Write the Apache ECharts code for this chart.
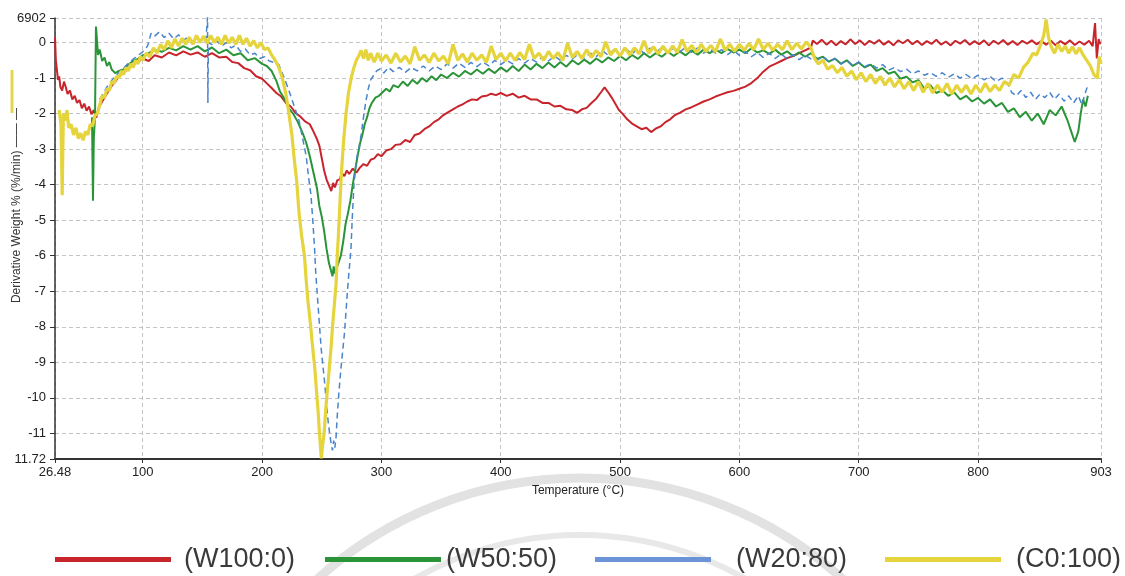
<!DOCTYPE html>
<html>
<head>
<meta charset="utf-8">
<script src="https://cdn.jsdelivr.net/npm/echarts@6/dist/echarts.min.js"></script>
<style>html,body{margin:0;padding:0;background:#fff;}#c{width:1125px;height:576px;}</style>
</head>
<body>
<div id="c"></div>
<script>
// ---- data (Temperature °C, derivative weight %/min) ----
const seriesNames = ['(W100:0)', '(W50:50)', '(W20:80)', '(C0:100)'];
const xTickValues = [26.48, 100, 200, 300, 400, 500, 600, 700, 800, 903];
const yTickValues = [0.6902, 0, -1, -2, -3, -4, -5, -6, -7, -8, -9, -10, -11, -11.72];
const yTickLabels = ['6902', '0', '-1', '-2', '-3', '-4', '-5', '-6', '-7', '-8', '-9', '-10', '-11', '11.72'];

const w100 = [
[26.48,0.15],[27.2,-0.5],[28,-0.75],[29,-1.05],[30,-0.95],[31,-1.25],[32.5,-1.35],[34,-1.1],[35.5,-1.25],[37,-1.45],[39,-1.35],[41,-1.6],[43,-1.5],[45,-1.7],[47,-1.62],[49,-1.85],[51,-1.72],[53,-1.92],[55,-1.8],[57,-2.02],[59,-1.9],[61,-2.12],[63,-1.85],[65,-1.72],[68,-1.55],[71,-1.38],[74,-1.22],[77,-1.1],[80,-0.95],[84,-0.85],[88,-0.72],[92,-0.62],[96,-0.55],[100,-0.45],[105,-0.52],[110,-0.36],[116,-0.42],[122,-0.28],[128,-0.36],[134,-0.25],[140,-0.34],[146,-0.28],[152,-0.4],[158,-0.3],[164,-0.42],[170,-0.4],[175,-0.55],[180,-0.58],[185,-0.72],[190,-0.78],[195,-0.95],[200,-1.02],[204,-1.15],[208,-1.28],[212,-1.42],[216,-1.52],[220,-1.7],[224,-1.8],[228,-1.98],[232,-2.08],[236,-2.22],[240,-2.3],[243,-2.5],[246,-2.72],[248,-2.9],[250,-3.25],[252,-3.6],[254,-3.85],[256,-4.02],[258,-4.18],[259.5,-3.95],[261,-4.08],[263,-3.88],[265,-3.85],[267,-3.68],[269,-3.76],[271,-3.6],[273,-3.7],[276,-3.55],[279,-3.66],[282,-3.52],[285,-3.42],[288,-3.47],[291,-3.3],[294,-3.26],[297,-3.14],[300,-3.2],[304,-3.04],[308,-3.0],[312,-2.88],[316,-2.86],[320,-2.74],[324,-2.8],[328,-2.6],[332,-2.56],[336,-2.44],[340,-2.36],[344,-2.24],[348,-2.16],[352,-2.04],[356,-1.96],[360,-1.88],[364,-1.8],[368,-1.74],[372,-1.66],[376,-1.6],[380,-1.62],[384,-1.52],[388,-1.5],[392,-1.44],[396,-1.48],[400,-1.42],[405,-1.5],[410,-1.44],[415,-1.55],[420,-1.5],[425,-1.6],[430,-1.6],[435,-1.7],[440,-1.7],[445,-1.8],[450,-1.78],[455,-1.88],[460,-1.9],[464,-1.98],[468,-1.88],[472,-1.84],[476,-1.7],[480,-1.58],[484,-1.4],[487,-1.26],[490,-1.4],[493,-1.55],[496,-1.72],[499,-1.9],[502,-2.0],[506,-2.16],[510,-2.28],[514,-2.36],[518,-2.44],[522,-2.4],[526,-2.52],[530,-2.42],[534,-2.36],[538,-2.24],[542,-2.16],[546,-2.04],[550,-1.98],[555,-1.88],[560,-1.82],[565,-1.74],[570,-1.66],[575,-1.6],[580,-1.52],[585,-1.46],[590,-1.4],[595,-1.36],[600,-1.3],[605,-1.24],[610,-1.14],[615,-1.0],[620,-0.82],[625,-0.68],[630,-0.6],[635,-0.52],[640,-0.44],[645,-0.38],[650,-0.3],[655,-0.22],[660,-0.14],[661.5,0.06],[665,-0.04],[669,0.08],[673,-0.06],[677,0.05],[681,-0.08],[685,0.04],[689,-0.05],[693,0.09],[697,-0.04],[701,0.06],[705,-0.07],[709,0.05],[713,-0.03],[717,0.07],[721,-0.06],[725,0.04],[729,-0.08],[733,0.06],[737,-0.02],[741,0.08],[745,-0.05],[749,0.05],[753,-0.07],[757,0.04],[761,-0.04],[765,0.08],[769,-0.06],[773,0.03],[777,-0.08],[781,0.05],[785,-0.03],[789,0.07],[793,-0.06],[797,0.04],[801,-0.05],[805,0.06],[809,-0.08],[813,0.05],[817,-0.04],[821,0.07],[825,-0.06],[829,0.04],[833,-0.07],[837,0.05],[841,-0.03],[845,0.06],[849,-0.05],[853,0.04],[857,-0.06],[861,0.05],[865,-0.08],[869,0.04],[873,-0.05],[877,0.06],[881,-0.07],[885,0.03],[889,-0.06],[893,0.05],[896,-0.1],[898,0.55],[899.5,-0.45],[901,0.1],[902.5,-0.05]
];

const w50 = [
[57.5,-2.1],[58.3,-4.45],[59,-2.7],[60,-2.1],[60.8,0.45],[61.5,0.15],[62.5,-0.35],[64,-0.2],[66,-0.52],[68,-0.42],[70,-0.66],[72,-0.55],[74,-0.76],[77,-0.86],[80,-0.8],[84,-0.76],[88,-0.62],[92,-0.52],[96,-0.46],[100,-0.36],[105,-0.3],[110,-0.2],[116,-0.26],[122,-0.15],[128,-0.22],[134,-0.1],[140,-0.2],[146,-0.1],[152,-0.25],[158,-0.14],[164,-0.3],[170,-0.2],[176,-0.36],[182,-0.3],[188,-0.5],[194,-0.44],[200,-0.6],[204,-0.66],[208,-0.8],[212,-1.08],[215,-1.38],[219,-1.6],[222,-1.84],[226,-2.0],[230,-2.24],[234,-2.55],[237,-2.82],[240,-3.2],[243,-3.65],[246,-4.1],[248,-4.6],[250,-4.9],[252,-5.3],[254,-5.8],[256,-6.2],[258,-6.45],[259,-6.58],[260,-6.3],[261,-6.5],[262,-6.4],[264,-6.2],[266,-6.0],[268,-5.6],[270,-5.1],[272,-4.8],[274,-4.45],[276,-4.0],[278,-3.6],[280,-3.2],[282,-2.85],[284,-2.6],[286,-2.3],[288,-2.1],[290,-1.85],[292,-1.7],[295,-1.55],[298,-1.5],[301,-1.4],[304,-1.3],[307,-1.38],[310,-1.2],[314,-1.26],[318,-1.1],[322,-1.22],[326,-1.05],[330,-1.16],[334,-1.0],[338,-1.1],[342,-0.95],[346,-1.06],[350,-0.9],[355,-1.0],[360,-0.85],[365,-0.96],[370,-0.8],[375,-0.9],[380,-0.76],[385,-0.88],[390,-0.74],[395,-0.86],[400,-0.7],[405,-0.82],[410,-0.66],[415,-0.8],[420,-0.62],[425,-0.76],[430,-0.6],[435,-0.72],[440,-0.56],[445,-0.7],[450,-0.55],[455,-0.68],[460,-0.5],[465,-0.62],[470,-0.48],[475,-0.6],[480,-0.45],[485,-0.56],[490,-0.42],[495,-0.52],[500,-0.38],[505,-0.5],[510,-0.35],[515,-0.46],[520,-0.3],[525,-0.42],[530,-0.3],[535,-0.4],[540,-0.26],[545,-0.38],[550,-0.25],[555,-0.36],[560,-0.22],[565,-0.34],[570,-0.2],[575,-0.3],[580,-0.2],[585,-0.3],[590,-0.18],[595,-0.28],[600,-0.2],[605,-0.3],[610,-0.16],[615,-0.28],[620,-0.22],[625,-0.32],[630,-0.2],[635,-0.34],[640,-0.25],[645,-0.38],[650,-0.28],[655,-0.4],[660,-0.3],[665,-0.46],[670,-0.4],[675,-0.54],[680,-0.45],[685,-0.6],[690,-0.5],[695,-0.66],[700,-0.56],[705,-0.7],[710,-0.62],[715,-0.8],[720,-0.72],[725,-0.88],[730,-0.82],[735,-1.02],[740,-0.96],[745,-1.12],[750,-1.06],[755,-1.3],[760,-1.2],[765,-1.42],[770,-1.34],[775,-1.5],[780,-1.4],[785,-1.6],[790,-1.5],[795,-1.66],[800,-1.56],[805,-1.72],[810,-1.6],[815,-1.8],[820,-1.7],[825,-1.95],[830,-1.85],[835,-2.1],[840,-1.95],[845,-2.2],[850,-2.0],[855,-2.3],[860,-1.9],[865,-2.05],[870,-1.8],[875,-2.2],[878,-2.5],[881,-2.8],[884,-2.5],[886,-2.0],[888,-1.6],[890,-1.8],[892,-1.5]
];

const w20 = [
[64,-1.6],[70,-1.25],[76,-0.98],[82,-0.78],[88,-0.58],[94,-0.42],[100,-0.26],[104,-0.1],[107,0.26],[110,0.18],[114,0.3],[118,0.14],[122,0.26],[126,0.1],[130,0.22],[134,0.06],[138,0.16],[142,0.0],[146,0.12],[150,0.0],[153,0.1],[154.3,0.72],[154.6,-1.7],[155,0.0],[158,-0.06],[162,0.05],[166,-0.1],[170,0.0],[174,-0.15],[178,-0.08],[182,-0.25],[186,-0.18],[190,-0.35],[194,-0.3],[198,-0.45],[202,-0.4],[206,-0.52],[210,-0.56],[214,-0.62],[218,-0.95],[222,-1.3],[225,-1.6],[228,-1.9],[231,-2.2],[234,-2.7],[237,-3.2],[239,-3.8],[241,-4.3],[242.5,-5.0],[244,-5.8],[245,-6.5],[246.5,-7.2],[248,-7.9],[249.5,-8.6],[251,-9.1],[252.5,-9.6],[254,-10.2],[255.5,-10.7],[257,-11.1],[258,-11.3],[259,-11.48],[260,-11.2],[261,-11.4],[262,-11.1],[263,-10.5],[264.5,-9.8],[266,-9.2],[267.5,-8.7],[269,-8.2],[270.5,-7.5],[271.5,-7.0],[273,-6.4],[274.5,-5.8],[275.5,-5.0],[277,-4.0],[279,-3.3],[281,-3.0],[283,-2.6],[285,-2.1],[287,-1.65],[289,-1.3],[291,-1.05],[293,-0.95],[296,-0.8],[299,-0.74],[302,-0.86],[306,-0.7],[310,-0.82],[315,-0.7],[320,-0.84],[325,-0.7],[330,-0.8],[335,-0.66],[340,-0.8],[345,-0.66],[350,-0.76],[355,-0.6],[360,-0.72],[365,-0.58],[370,-0.7],[375,-0.56],[380,-0.68],[385,-0.55],[390,-0.66],[395,-0.5],[400,-0.62],[405,-0.5],[410,-0.6],[415,-0.45],[420,-0.58],[425,-0.45],[430,-0.55],[435,-0.4],[440,-0.52],[445,-0.38],[450,-0.5],[455,-0.36],[460,-0.46],[465,-0.32],[470,-0.44],[475,-0.3],[480,-0.4],[485,-0.22],[490,-0.36],[495,-0.2],[500,-0.34],[505,-0.18],[510,-0.32],[515,-0.16],[520,-0.3],[525,-0.16],[530,-0.28],[535,-0.14],[540,-0.28],[545,-0.15],[550,-0.26],[555,-0.14],[560,-0.28],[565,-0.15],[570,-0.3],[575,-0.18],[580,-0.3],[585,-0.2],[590,-0.34],[595,-0.22],[600,-0.36],[605,-0.25],[610,-0.4],[615,-0.28],[620,-0.42],[625,-0.3],[630,-0.45],[635,-0.32],[640,-0.46],[645,-0.34],[650,-0.48],[655,-0.36],[660,-0.46],[665,-0.5],[670,-0.4],[675,-0.55],[680,-0.45],[685,-0.6],[690,-0.5],[695,-0.64],[700,-0.55],[705,-0.68],[710,-0.6],[715,-0.72],[720,-0.62],[725,-0.78],[730,-0.7],[735,-0.82],[740,-0.75],[745,-0.88],[750,-0.8],[755,-0.92],[760,-0.85],[765,-0.95],[770,-0.85],[775,-0.98],[780,-0.88],[785,-1.0],[790,-0.9],[795,-1.02],[800,-0.92],[805,-1.05],[810,-0.95],[815,-1.1],[820,-1.0],[825,-1.15],[828,-1.4],[832,-1.5],[836,-1.35],[840,-1.55],[844,-1.4],[848,-1.6],[852,-1.45],[856,-1.55],[860,-1.4],[864,-1.6],[868,-1.45],[872,-1.65],[876,-1.5],[880,-1.7],[884,-1.5],[887,-1.75],[890,-1.4],[892,-1.2]
];

const c0 = [
[30,-1.9],[31.5,-2.3],[32.5,-4.3],[33.5,-2.0],[35,-2.2],[36.5,-1.9],[38,-2.4],[40,-2.3],[42,-2.6],[44,-2.4],[46,-2.7],[48,-2.55],[50,-2.75],[52,-2.5],[54,-2.6],[56,-2.3],[58,-2.35],[60,-2.05],[62,-2.0],[64,-1.75],[66,-1.5],[68,-1.55],[70,-1.3],[72,-1.35],[74,-1.1],[76,-1.15],[78,-0.95],[80,-1.0],[82,-0.8],[84,-0.9],[86,-0.7],[88,-0.8],[90,-0.6],[92,-0.7],[94,-0.5],[96,-0.6],[98,-0.4],[100,-0.5],[103,-0.3],[106,-0.4],[109,-0.15],[112,-0.3],[115,-0.05],[118,-0.2],[121,0.05],[124,-0.15],[127,0.1],[130,-0.1],[133,0.12],[136,-0.05],[139,0.15],[142,-0.05],[145,0.2],[148,0.0],[151,0.18],[154,-0.02],[157,0.2],[160,0.0],[163,0.15],[166,-0.05],[169,0.2],[172,-0.02],[175,0.15],[178,-0.05],[181,0.2],[184,-0.05],[187,0.12],[190,-0.1],[193,0.05],[196,-0.15],[199,0.0],[202,-0.2],[205,-0.15],[208,-0.35],[211,-0.5],[214,-0.7],[217,-1.0],[220,-1.45],[222.5,-2.0],[225,-2.6],[227,-3.3],[229,-3.9],[231,-4.8],[233,-5.4],[235.5,-6.0],[237,-6.7],[238.5,-7.3],[240.5,-7.9],[242,-8.45],[244,-9.1],[245.5,-9.75],[247,-10.4],[248,-10.95],[249,-11.4],[249.7,-11.7],[250.5,-11.4],[252,-11.0],[253,-10.5],[254,-10.05],[255.5,-9.5],[256.5,-9.1],[258,-8.5],[259,-8.0],[260.5,-7.4],[262,-6.8],[263,-6.0],[264,-5.4],[265,-4.7],[266,-4.0],[267,-3.4],[268.5,-2.7],[270.5,-1.95],[272.5,-1.4],[275,-0.95],[277,-0.7],[279,-0.5],[281,-0.38],[283,-0.22],[285,-0.45],[287,-0.2],[289,-0.5],[291,-0.3],[294,-0.55],[297,-0.3],[300,-0.52],[304,-0.35],[308,-0.58],[312,-0.3],[316,-0.55],[320,-0.38],[324,-0.6],[328,-0.12],[332,-0.5],[336,-0.35],[340,-0.56],[344,-0.3],[348,-0.52],[352,-0.38],[356,-0.6],[360,-0.05],[364,-0.5],[368,-0.32],[372,-0.55],[376,-0.3],[380,-0.5],[384,-0.35],[388,-0.56],[392,-0.1],[396,-0.48],[400,-0.3],[404,-0.52],[408,-0.3],[412,-0.5],[416,-0.28],[420,-0.48],[424,-0.05],[428,-0.45],[432,-0.3],[436,-0.5],[440,-0.25],[444,-0.45],[448,-0.28],[452,-0.5],[456,-0.02],[460,-0.42],[464,-0.25],[468,-0.45],[472,-0.2],[476,-0.42],[480,-0.22],[484,-0.4],[488,0.02],[492,-0.35],[496,-0.18],[500,-0.38],[504,-0.15],[508,-0.35],[512,-0.15],[516,-0.32],[520,0.05],[524,-0.3],[528,-0.12],[532,-0.32],[536,-0.1],[540,-0.3],[544,-0.1],[548,-0.28],[552,0.08],[556,-0.25],[560,-0.08],[564,-0.28],[568,-0.05],[572,-0.25],[576,-0.08],[580,-0.26],[584,0.1],[588,-0.22],[592,-0.05],[596,-0.25],[600,-0.05],[604,-0.22],[608,-0.03],[612,-0.2],[616,0.1],[620,-0.2],[624,-0.02],[628,-0.22],[632,-0.05],[636,-0.2],[640,0.05],[644,-0.2],[648,-0.02],[652,-0.18],[656,0.02],[660,-0.15],[663,-0.45],[666,-0.6],[670,-0.5],[674,-0.75],[678,-0.65],[682,-0.85],[686,-0.7],[690,-0.95],[694,-0.8],[698,-1.05],[702,-0.85],[706,-1.1],[710,-0.9],[714,-1.15],[718,-0.95],[722,-1.2],[726,-1.0],[730,-1.25],[734,-1.05],[738,-1.3],[742,-1.1],[746,-1.35],[750,-1.1],[754,-1.4],[758,-1.15],[762,-1.42],[766,-1.2],[770,-1.4],[774,-1.15],[778,-1.45],[782,-1.2],[786,-1.4],[790,-1.2],[794,-1.45],[798,-1.2],[802,-1.4],[806,-1.15],[810,-1.38],[814,-1.2],[818,-1.35],[822,-1.1],[826,-1.2],[830,-0.9],[834,-1.0],[838,-0.7],[842,-0.55],[846,-0.3],[849,-0.35],[852,-0.1],[855,0.2],[857,0.65],[859,0.15],[861,-0.1],[864,-0.3],[867,-0.05],[870,-0.25],[873,-0.1],[876,-0.3],[879,-0.12],[882,-0.32],[885,-0.15],[888,-0.35],[891,-0.5],[894,-0.65],[897,-0.9],[900,-1.0],[901.5,-0.4],[903,-0.6]
];

// ---- chart ----
const chart = echarts.init(document.getElementById('c'), null, {renderer: 'canvas'});
const sans = "'Liberation Sans', Arial, sans-serif";
const gridLine = {show: true, lineStyle: {color: '#c4c4c4', width: 1, type: [4, 3]}};

function lineSeries(name, data, color, width, dash, z) {
  return {
    name: name, type: 'line', data: data, showSymbol: false, symbol: 'none',
    sampling: null, z: z,
    lineStyle: {color: color, width: width, type: dash || 'solid'},
    itemStyle: {color: color}
  };
}

const legendLeft = [55, 325, 595, 885];
const legendTextGap = [8, 0, 20, 10];
const legendColors = ['#c8242c', '#2a9438', '#6a94d6', '#e6d43c'];

chart.setOption({
  animation: false,
  backgroundColor: '#ffffff',
  grid: {left: 55, right: 24, top: 18, bottom: 117, containLabel: false, outerBoundsMode: 'none'},
  legend: seriesNames.map(function (n, i) {
    return {
      data: [{name: n, itemStyle: {color: legendColors[i]}}],
      left: legendLeft[i], top: 546, padding: 0,
      icon: 'rect', itemWidth: 116, itemHeight: 5,
      selectedMode: false,
      textStyle: {fontFamily: sans, fontSize: 27, color: '#3a3a3a', padding: [0, 0, 0, legendTextGap[i]]}
    };
  }),
  xAxis: {
    type: 'value', min: 26.48, max: 903,
    name: 'Temperature (°C)', nameLocation: 'middle', nameGap: 26, nameMoveOverlap: false,
    nameTextStyle: {fontFamily: sans, fontSize: 12, color: '#222'},
    axisLine: {show: true, onZero: false, lineStyle: {color: '#333', width: 2}},
    axisTick: {show: true, customValues: xTickValues, length: 4, lineStyle: {color: '#333'}},
    axisLabel: {
      customValues: xTickValues, fontFamily: sans, fontSize: 13, color: '#222', margin: 7,
      formatter: function (v) { return Math.abs(v - 26.48) < 1e-6 ? '26.48' : String(Math.round(v)); }
    },
    splitLine: gridLine
  },
  yAxis: {
    type: 'value', min: -11.72, max: 0.6902,
    name: 'Derivative Weight % (%/min) —— —', nameLocation: 'middle', nameGap: 32, nameMoveOverlap: false,
    nameTextStyle: {fontFamily: sans, fontSize: 12, color: '#333', padding: [0, 0, 0, 66]},
    axisLine: {show: true, onZero: false, lineStyle: {color: '#333', width: 1.5}},
    axisTick: {show: true, customValues: yTickValues, length: 5, lineStyle: {color: '#333'}},
    axisLabel: {
      customValues: yTickValues, fontFamily: sans, fontSize: 13, color: '#222', margin: 9,
      formatter: function (v) {
        for (let i = 0; i < yTickValues.length; i++) {
          if (Math.abs(yTickValues[i] - v) < 1e-6) return yTickLabels[i];
        }
        return '';
      }
    },
    splitLine: gridLine
  },
  graphic: [
    {type: 'circle', z: -10, silent: true, shape: {cx: 580, cy: 870, r: 392},
     style: {fill: 'none', stroke: '#e2e2e2', lineWidth: 9}},
    {type: 'circle', z: -10, silent: true, shape: {cx: 580, cy: 870, r: 335},
     style: {fill: 'none', stroke: '#e8e8e8', lineWidth: 6}},
    {type: 'line', silent: true, shape: {x1: 12, y1: 70, x2: 12, y2: 113},
     style: {stroke: '#e2d84e', lineWidth: 3}}
  ],
  series: [
    lineSeries(seriesNames[0], w100, '#c8242c', 2, null, 2),
    lineSeries(seriesNames[1], w50, '#2a9438', 2, null, 3),
    lineSeries(seriesNames[2], w20, '#4a84cc', 1.5, [6, 4], 4),
    lineSeries(seriesNames[3], c0, '#e6d43c', 3.2, null, 5)
  ]
});
</script>
</body>
</html>
